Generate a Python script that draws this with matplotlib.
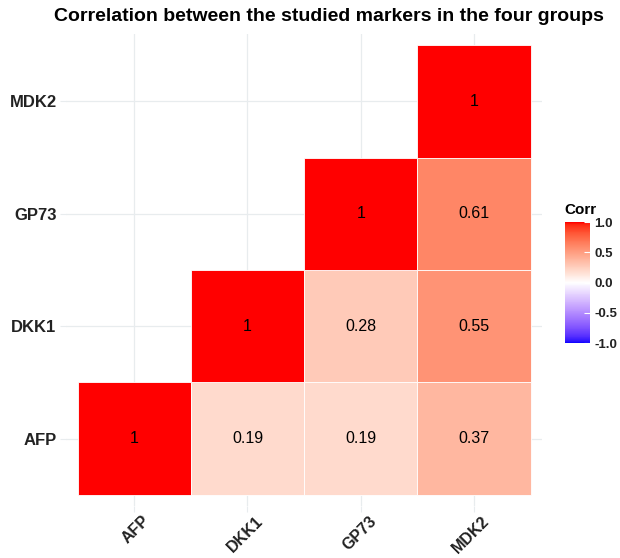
import numpy as np
import matplotlib
matplotlib.use('Agg')
import matplotlib.pyplot as plt
from matplotlib.colors import ListedColormap, Normalize
from matplotlib.transforms import ScaledTranslation

plt.rcParams['font.family'] = ['Liberation Sans', 'DejaVu Sans']

markers = ['AFP', 'DKK1', 'GP73', 'MDK2']
# upper triangle of the correlation matrix, row = y marker, col = x marker
corr = np.array([
    [1.00, 0.19, 0.19, 0.37],
    [np.nan, 1.00, 0.28, 0.55],
    [np.nan, np.nan, 1.00, 0.61],
    [np.nan, np.nan, np.nan, 1.00],
])
cbar_ticks = [-1.0, -0.5, 0.0, 0.5, 1.0]

WHITE_XYZ = np.array([0.95047, 1.0, 1.08883])
M = np.array([[0.4124, 0.3576, 0.1805],
              [0.2126, 0.7152, 0.0722],
              [0.0193, 0.1192, 0.9505]])


def rgb_to_lab(rgb):
    c = np.asarray(rgb, float)
    lin = np.where(c <= 0.04045, c / 12.92, ((c + 0.055) / 1.055) ** 2.4)
    xyz = M @ lin / WHITE_XYZ
    f = np.where(xyz > 0.008856, np.cbrt(xyz), 7.787 * xyz + 16 / 116)
    return np.array([116 * f[1] - 16, 500 * (f[0] - f[1]), 200 * (f[1] - f[2])])


def lab_to_rgb(lab):
    L, a, b = lab
    fy = (L + 16) / 116
    fx = fy + a / 500
    fz = fy - b / 200
    f = np.array([fx, fy, fz])
    xyz = np.where(f ** 3 > 0.008856, f ** 3, (f - 16 / 116) / 7.787) * WHITE_XYZ
    lin = np.linalg.solve(M, xyz)
    lin = np.clip(lin, 0, 1)
    c = np.where(lin <= 0.0031308, 12.92 * lin, 1.055 * lin ** (1 / 2.4) - 0.055)
    return np.clip(c, 0, 1)


def gradient2(low, mid, high, n=256):
    # diverging scale interpolated in Lab space
    lo, mi, hi = rgb_to_lab(low), rgb_to_lab(mid), rgb_to_lab(high)
    cols = []
    for t in np.linspace(-1, 1, n):
        if t < 0:
            lab = mi + (lo - mi) * (-t)
        else:
            lab = mi + (hi - mi) * t
        cols.append(lab_to_rgb(lab))
    return ListedColormap(cols)


def main():
    cmap = gradient2((0, 0, 1), (1, 1, 1), (1, 0, 0))
    norm = Normalize(-1, 1)

    fig = plt.figure(figsize=(6.2, 5.58), dpi=100)
    ax = fig.add_axes([0.107, 0.093, 0.767, 0.846])

    n = len(markers)
    for i in range(n):
        for j in range(n):
            v = corr[i, j]
            if np.isnan(v):
                continue
            ax.add_patch(plt.Rectangle((j - 0.5, i - 0.5), 1, 1,
                                       facecolor=cmap(norm(v)),
                                       edgecolor='white', linewidth=0.6,
                                       zorder=2))
            ax.text(j, i, '{:g}'.format(v), ha='center', va='center',
                    fontsize=11.5, color='black', zorder=3)

    ax.set_xlim(-0.6, n - 0.4)
    ax.set_ylim(-0.6, n - 0.4)
    ax.set_xticks(range(n))
    ax.set_yticks(range(n))
    ax.set_xticklabels(markers, rotation=45, ha='right', va='top',
                       rotation_mode='anchor', fontweight='bold',
                       fontsize=11.5, color='#222222')
    ax.set_yticklabels(markers, fontweight='bold', fontsize=12,
                       color='#222222')
    ax.tick_params(length=4, color='#e8ecee', width=0.8, pad=3)
    ax.tick_params(axis='x', pad=1)
    shift = ScaledTranslation(8 / 100, 0, fig.dpi_scale_trans)
    for lab in ax.get_xticklabels():
        lab.set_transform(lab.get_transform() + shift)
    ax.grid(True, color='#e8ecee', linewidth=0.9, zorder=0)
    ax.set_axisbelow(True)
    for s in ax.spines.values():
        s.set_visible(False)

    fig.suptitle('Correlation between the studied markers in the four groups',
                 x=0.53, y=0.985, fontsize=14, fontweight='bold')

    cax = fig.add_axes([0.911, 0.385, 0.040, 0.217])
    sm = plt.cm.ScalarMappable(norm=norm, cmap=cmap)
    cb = fig.colorbar(sm, cax=cax, ticks=cbar_ticks)
    cb.outline.set_visible(False)
    cb.ax.set_yticklabels(['{:.1f}'.format(t) for t in cbar_ticks],
                          fontsize=9.5, fontweight='bold', color='#222222')
    cb.ax.tick_params(length=4, color='white', width=0.8, direction='in')
    cax.set_title('Corr', fontsize=11, fontweight='bold', loc='left', pad=6)

    fig.savefig('out.png', dpi=100)


if __name__ == '__main__':
    main()
